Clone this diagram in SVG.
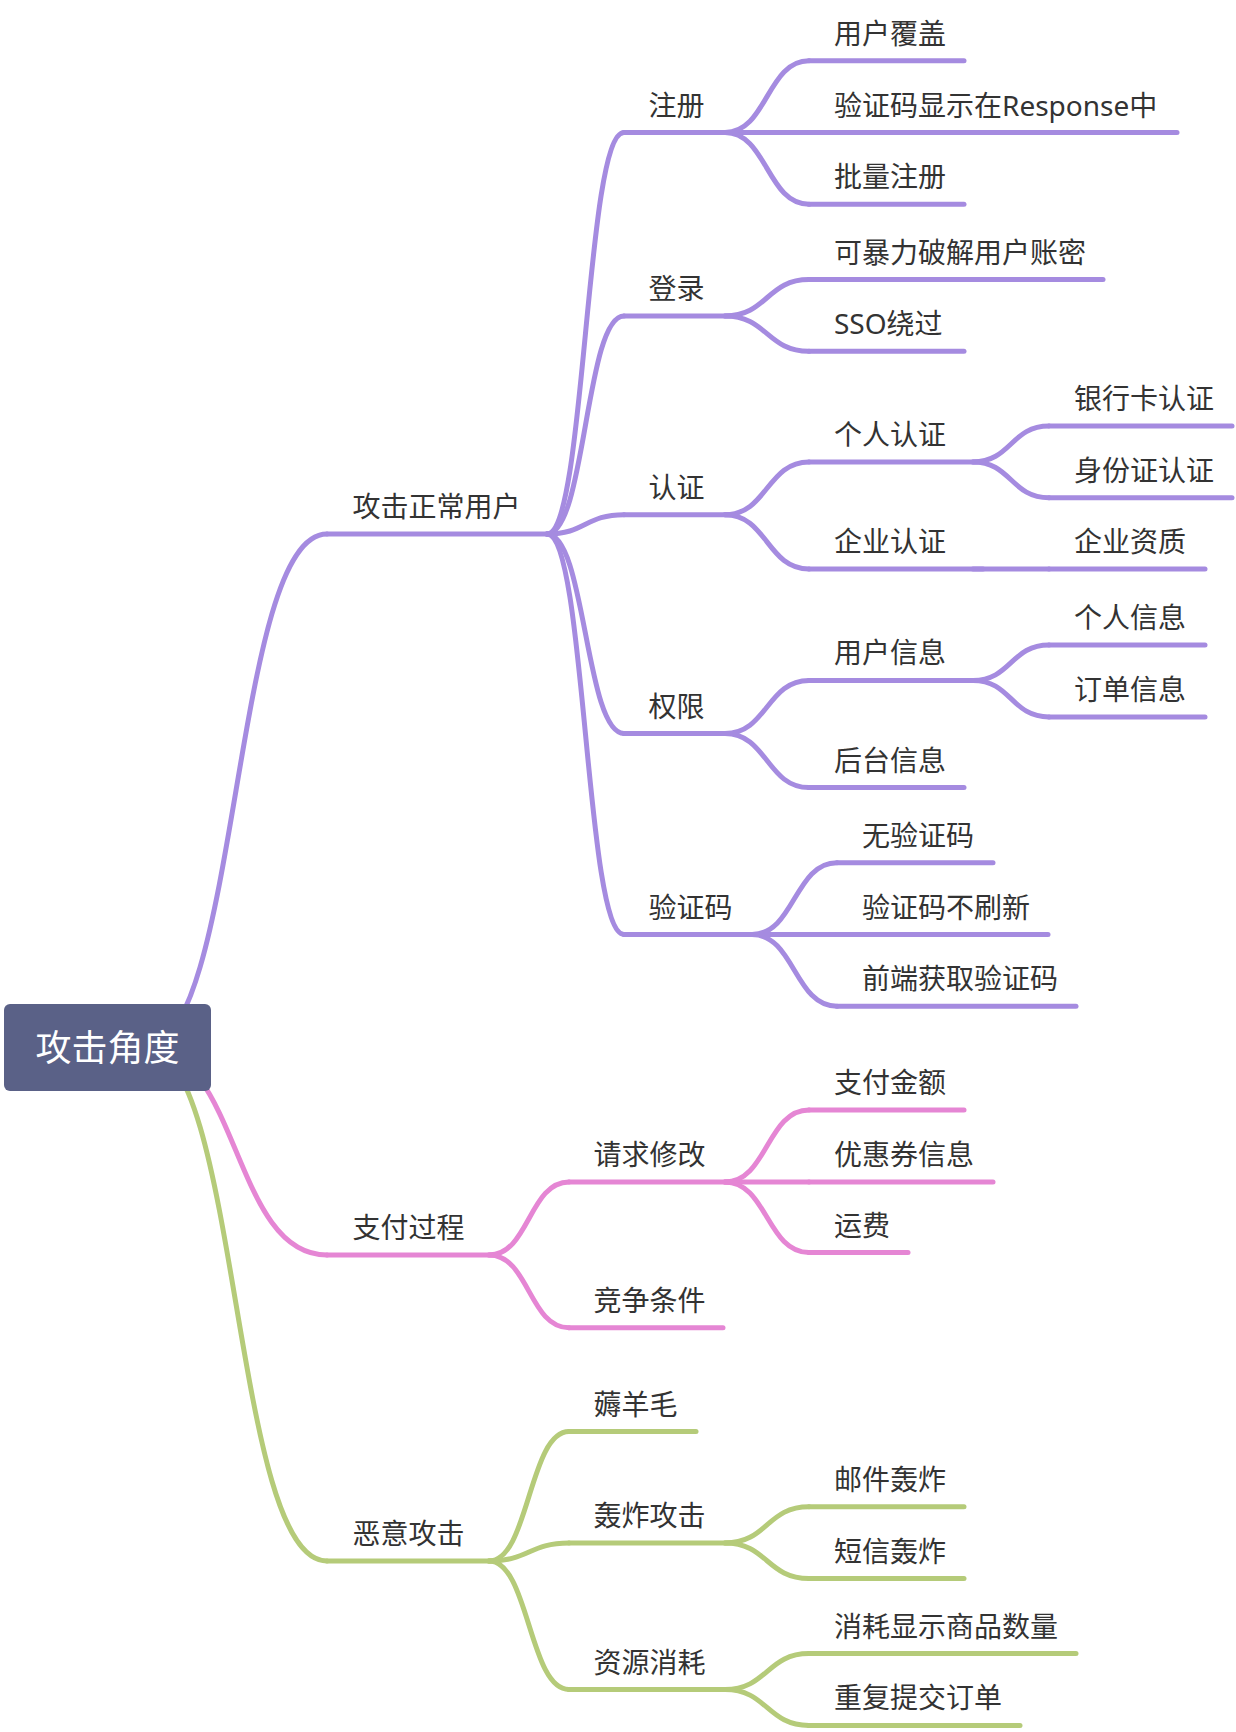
<svg xmlns="http://www.w3.org/2000/svg" width="1236" height="1732" viewBox="0 0 1236 1732">
<style>
.ln{fill:none;stroke-width:5;stroke-linecap:round;stroke-linejoin:round}
.p{stroke:#a58be0}
.k{stroke:#e586d4}
.g{stroke:#b5cb79}
.t{font-family:"Noto Sans","Noto Sans CJK SC",sans-serif;font-size:28px;fill:#333333}
.rt{font-family:"Noto Sans","Noto Sans CJK SC",sans-serif;font-size:36px;fill:#ffffff}
</style>
<rect width="1236" height="1732" fill="#ffffff"/>
<g id="connectors">
<path class="ln p" d="M145 1047 C240 1047 232 534 327 534"/>
<path class="ln k" d="M145 1047 C240 1047 232 1255 327 1255"/>
<path class="ln g" d="M145 1047 C240 1047 232 1561 327 1561"/>
<path class="ln p" d="M547 534 C585.5 534 585.5 132.5 624 132.5"/>
<path class="ln p" d="M547 534 C585.5 534 585.5 316 624 316"/>
<path class="ln p" d="M547 534 C585.5 534 585.5 514.7 624 514.7"/>
<path class="ln p" d="M547 534 C585.5 534 585.5 733.5 624 733.5"/>
<path class="ln p" d="M547 534 C585.5 534 585.5 934.5 624 934.5"/>
<path class="ln k" d="M489 1255 C529 1255 529 1182 569 1182"/>
<path class="ln k" d="M489 1255 C529 1255 529 1327.7 569 1327.7"/>
<path class="ln g" d="M489 1561 C529 1561 529 1431.6 569 1431.6"/>
<path class="ln g" d="M489 1561 C529 1561 529 1543 569 1543"/>
<path class="ln g" d="M489 1561 C529 1561 529 1689.5 569 1689.5"/>
<path class="ln p" d="M725 132.5 C767 132.5 767 60.75 809 60.75"/>
<path class="ln p" d="M725 132.5 C767 132.5 767 132.5 809 132.5"/>
<path class="ln p" d="M725 132.5 C767 132.5 767 204.25 809 204.25"/>
<path class="ln p" d="M725 316 C767 316 767 279.5 809 279.5"/>
<path class="ln p" d="M725 316 C767 316 767 351.25 809 351.25"/>
<path class="ln p" d="M725 514.7 C767 514.7 767 461.9 809 461.9"/>
<path class="ln p" d="M725 514.7 C767 514.7 767 569 809 569"/>
<path class="ln p" d="M725 733.5 C767 733.5 767 680.4 809 680.4"/>
<path class="ln p" d="M725 733.5 C767 733.5 767 787.6 809 787.6"/>
<path class="ln p" d="M752 934.5 C794.5 934.5 794.5 862.7 837 862.7"/>
<path class="ln p" d="M752 934.5 C794.5 934.5 794.5 934.5 837 934.5"/>
<path class="ln p" d="M752 934.5 C794.5 934.5 794.5 1006.3 837 1006.3"/>
<path class="ln k" d="M725 1182 C767 1182 767 1110 809 1110"/>
<path class="ln k" d="M725 1182 C767 1182 767 1182 809 1182"/>
<path class="ln k" d="M725 1182 C767 1182 767 1252.6 809 1252.6"/>
<path class="ln g" d="M725 1543 C767 1543 767 1506.7 809 1506.7"/>
<path class="ln g" d="M725 1543 C767 1543 767 1578.5 809 1578.5"/>
<path class="ln g" d="M725 1689.5 C767 1689.5 767 1653.6 809 1653.6"/>
<path class="ln g" d="M725 1689.5 C767 1689.5 767 1725.4 809 1725.4"/>
<path class="ln p" d="M973 461.9 C1011 461.9 1011 426 1049 426"/>
<path class="ln p" d="M973 461.9 C1011 461.9 1011 497.7 1049 497.7"/>
<path class="ln p" d="M973 569 C1011 569 1011 569 1049 569"/>
<path class="ln p" d="M973 680.4 C1011 680.4 1011 645 1049 645"/>
<path class="ln p" d="M973 680.4 C1011 680.4 1011 716.9 1049 716.9"/>
</g>
<g id="node-root">
<rect x="4" y="1004" width="207" height="87" rx="6" fill="#5a6187"/>
<text class="rt" x="107.5" y="1061" text-anchor="middle">攻击角度</text>
</g>
<g id="node-attack-users"><path class="ln p" d="M327 534 H549"/><text class="t" x="352.5" y="517">攻击正常用户</text></g>
<g id="node-register"><path class="ln p" d="M624 132.5 H735"/><text class="t" x="648.5" y="115.5">注册</text></g>
<g id="node-user-overwrite"><path class="ln p" d="M809 60.75 H964"/><text class="t" x="834" y="43.75">用户覆盖</text></g>
<g id="node-code-in-response"><path class="ln p" d="M809 132.5 H1177"/><text class="t" x="834" y="115.5">验证码显示在Response中</text></g>
<g id="node-bulk-register"><path class="ln p" d="M809 204.25 H964"/><text class="t" x="834" y="187.25">批量注册</text></g>
<g id="node-login"><path class="ln p" d="M624 316 H735"/><text class="t" x="648.5" y="299">登录</text></g>
<g id="node-bruteforce"><path class="ln p" d="M809 279.5 H1103"/><text class="t" x="834" y="262.5">可暴力破解用户账密</text></g>
<g id="node-sso"><path class="ln p" d="M809 351.25 H964"/><text class="t" x="834" y="334.25">SSO绕过</text></g>
<g id="node-auth"><path class="ln p" d="M624 514.7 H735"/><text class="t" x="648.5" y="497.7">认证</text></g>
<g id="node-personal-auth"><path class="ln p" d="M809 461.9 H983"/><text class="t" x="834" y="444.9">个人认证</text></g>
<g id="node-bank-card"><path class="ln p" d="M1049 426 H1232"/><text class="t" x="1074" y="409">银行卡认证</text></g>
<g id="node-id-card"><path class="ln p" d="M1049 497.7 H1232"/><text class="t" x="1074" y="480.7">身份证认证</text></g>
<g id="node-company-auth"><path class="ln p" d="M809 569 H983"/><text class="t" x="834" y="552">企业认证</text></g>
<g id="node-company-qual"><path class="ln p" d="M1049 569 H1205"/><text class="t" x="1074" y="552">企业资质</text></g>
<g id="node-permission"><path class="ln p" d="M624 733.5 H735"/><text class="t" x="648.5" y="716.5">权限</text></g>
<g id="node-user-info"><path class="ln p" d="M809 680.4 H983"/><text class="t" x="834" y="663.4">用户信息</text></g>
<g id="node-personal-info"><path class="ln p" d="M1049 645 H1205"/><text class="t" x="1074" y="628">个人信息</text></g>
<g id="node-order-info"><path class="ln p" d="M1049 716.9 H1205"/><text class="t" x="1074" y="699.9">订单信息</text></g>
<g id="node-admin-info"><path class="ln p" d="M809 787.6 H964"/><text class="t" x="834" y="770.6">后台信息</text></g>
<g id="node-captcha"><path class="ln p" d="M624 934.5 H762"/><text class="t" x="648.5" y="917.5">验证码</text></g>
<g id="node-no-captcha"><path class="ln p" d="M837 862.7 H993"/><text class="t" x="862" y="845.7">无验证码</text></g>
<g id="node-captcha-no-refresh"><path class="ln p" d="M837 934.5 H1048"/><text class="t" x="862" y="917.5">验证码不刷新</text></g>
<g id="node-frontend-captcha"><path class="ln p" d="M837 1006.3 H1076"/><text class="t" x="862" y="989.3">前端获取验证码</text></g>
<g id="node-payment"><path class="ln k" d="M327 1255 H497"/><text class="t" x="352.5" y="1238">支付过程</text></g>
<g id="node-request-modify"><path class="ln k" d="M569 1182 H735"/><text class="t" x="593.5" y="1165">请求修改</text></g>
<g id="node-pay-amount"><path class="ln k" d="M809 1110 H964"/><text class="t" x="834" y="1093">支付金额</text></g>
<g id="node-coupon"><path class="ln k" d="M809 1182 H993"/><text class="t" x="834" y="1165">优惠券信息</text></g>
<g id="node-shipping"><path class="ln k" d="M809 1252.6 H908"/><text class="t" x="834" y="1235.6">运费</text></g>
<g id="node-race"><path class="ln k" d="M569 1327.7 H723"/><text class="t" x="593.5" y="1310.7">竞争条件</text></g>
<g id="node-malicious"><path class="ln g" d="M327 1561 H497"/><text class="t" x="352.5" y="1544">恶意攻击</text></g>
<g id="node-wool"><path class="ln g" d="M569 1431.6 H696"/><text class="t" x="593.5" y="1414.6">薅羊毛</text></g>
<g id="node-bomb"><path class="ln g" d="M569 1543 H735"/><text class="t" x="593.5" y="1526">轰炸攻击</text></g>
<g id="node-mail-bomb"><path class="ln g" d="M809 1506.7 H964"/><text class="t" x="834" y="1489.7">邮件轰炸</text></g>
<g id="node-sms-bomb"><path class="ln g" d="M809 1578.5 H964"/><text class="t" x="834" y="1561.5">短信轰炸</text></g>
<g id="node-resource"><path class="ln g" d="M569 1689.5 H735"/><text class="t" x="593.5" y="1672.5">资源消耗</text></g>
<g id="node-stock-drain"><path class="ln g" d="M809 1653.6 H1076"/><text class="t" x="834" y="1636.6">消耗显示商品数量</text></g>
<g id="node-repeat-order"><path class="ln g" d="M809 1725.4 H1020"/><text class="t" x="834" y="1708.4">重复提交订单</text></g>
</svg>
